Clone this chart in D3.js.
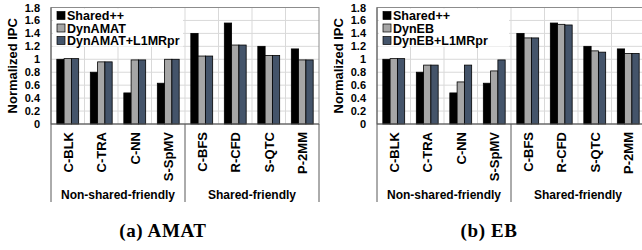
<!DOCTYPE html>
<html>
<head>
<meta charset="utf-8">
<script src="https://cdn.jsdelivr.net/npm/d3@7"></script>
<style>
  body { margin: 0; background: #fff; }
  text { font-family: Arial, "Liberation Sans", sans-serif; font-weight: bold; }
</style>
</head>
<body>
<div id="chart"></div>
<script>
// data
const categories = ["C-BLK", "C-TRA", "C-NN", "S-SpMV", "C-BFS", "R-CFD", "S-QTC", "P-2MM"];
const groups = [
    { name: "Non-shared-friendly", from: 0, to: 4 },
    { name: "Shared-friendly", from: 4, to: 8 }
];
const yTicks = [0, 0.2, 0.4, 0.6, 0.8, 1, 1.2, 1.4, 1.6, 1.8];

const seriesAmat = ["Shared++", "DynAMAT", "DynAMAT+L1MRpr"];
const sharedAmat = [1.00, 0.80, 0.48, 0.63, 1.40, 1.56, 1.20, 1.16];
const dynAmat    = [1.01, 0.96, 0.99, 1.00, 1.05, 1.22, 1.06, 0.99];
const dynAmatL1  = [1.01, 0.96, 0.99, 1.00, 1.05, 1.22, 1.06, 0.99];

const seriesEb = ["Shared++", "DynEB", "DynEB+L1MRpr"];
const sharedEb = [1.00, 0.80, 0.48, 0.63, 1.40, 1.56, 1.20, 1.16];
const dynEb    = [1.01, 0.91, 0.65, 0.82, 1.33, 1.54, 1.13, 1.09];
const dynEbL1  = [1.01, 0.91, 0.91, 0.99, 1.33, 1.53, 1.11, 1.09];

const colors = ["#000000", "#a6a6a6", "#44546a"];

const width = 642, height = 250;
const svg = d3.select("#chart").append("svg")
    .attr("width", width)
    .attr("height", height);

svg.append("rect").attr("width", width).attr("height", height).attr("fill", "#fff");

// Draws one panel. left = x of the plot's left edge.
function drawChart(left, seriesNames, values, caption) {
    const plotW = 268, top = 7.5, bottom = 124;
    const g = svg.append("g").attr("transform", "translate(" + left + ",0)");

    let x0 = d3.scaleBand().domain(categories).range([0, plotW]).padding(0);
    let x1 = d3.scaleBand().domain(seriesNames).range([0, x0.bandwidth()])
        .paddingInner(0).paddingOuter(0.8);
    let y = d3.scaleLinear().domain([0, 1.8]).range([bottom, top]);

    // horizontal gridlines
    g.selectAll(".hgrid").data(yTicks.slice(1))
        .enter().append("line")
        .attr("x1", 0).attr("x2", plotW)
        .attr("y1", d => y(d)).attr("y2", d => y(d))
        .attr("stroke", "#d9d9d9").attr("stroke-width", 1);

    // vertical gridlines between categories
    g.selectAll(".vgrid").data(categories.slice(1))
        .enter().append("line")
        .attr("x1", d => x0(d)).attr("x2", d => x0(d))
        .attr("y1", top).attr("y2", bottom)
        .attr("stroke", "#d9d9d9").attr("stroke-width", 1);

    // plot frame
    g.append("rect")
        .attr("x", 0).attr("y", top).attr("width", plotW).attr("height", bottom - top)
        .attr("fill", "none").attr("stroke", "#8c8c8c").attr("stroke-width", 1);

    // legend box (hides the grid behind it)
    const legend = g.append("g");
    legend.append("rect")
        .attr("x", 2).attr("y", top + 1).attr("width", 130).attr("height", 38)
        .attr("fill", "#fff");
    seriesNames.forEach(function(s, i) {
        let cy = 15.5 + i * 12.5;
        legend.append("rect")
            .attr("x", 6).attr("y", cy - 4).attr("width", 8).attr("height", 8)
            .attr("fill", colors[i]).attr("stroke", "#000").attr("stroke-width", 0.7);
        legend.append("text")
            .attr("x", 16).attr("y", cy + 4.5)
            .attr("font-size", "12.5px")
            .text(s);
    });

    // bars
    categories.forEach(function(c, ci) {
        seriesNames.forEach(function(s, si) {
            g.append("rect")
                .attr("x", x0(c) + x1(s))
                .attr("y", y(values[si][ci]))
                .attr("width", x1.bandwidth())
                .attr("height", y(0) - y(values[si][ci]))
                .attr("fill", colors[si])
                .attr("stroke", "#000")
                .attr("stroke-width", 0.8);
        });
    });

    // axis line
    g.append("line")
        .attr("x1", 0).attr("x2", plotW).attr("y1", bottom).attr("y2", bottom)
        .attr("stroke", "#595959").attr("stroke-width", 1);
    g.append("line")
        .attr("x1", 0).attr("x2", 0).attr("y1", top).attr("y2", bottom)
        .attr("stroke", "#595959").attr("stroke-width", 1);

    // y tick labels
    g.selectAll(".ytick").data(yTicks)
        .enter().append("text")
        .attr("x", -11).attr("y", d => y(d) + 4)
        .attr("text-anchor", "end")
        .attr("font-size", "11px")
        .text(d => d3.format("~g")(d));

    // y title
    g.append("text")
        .attr("transform", "translate(-34," + ((top + bottom) / 2) + ") rotate(-90)")
        .attr("text-anchor", "middle")
        .attr("font-size", "13px")
        .text("Normalized IPC");

    // category labels (rotated)
    categories.forEach(function(c) {
        let cx = x0(c) + x0.bandwidth() / 2;
        g.append("text")
            .attr("transform", "translate(" + (cx + 4.8) + ",132) rotate(-90)")
            .attr("text-anchor", "end")
            .attr("font-size", "13px")
            .text(c);
    });

    // group separators and labels
    let seps = [0, x0(categories[4]), plotW];
    seps.forEach(function(sx) {
        g.append("line")
            .attr("x1", sx).attr("x2", sx).attr("y1", bottom).attr("y2", 202)
            .attr("stroke", "#595959").attr("stroke-width", 1);
    });
    groups.forEach(function(gr) {
        let gx0 = x0(categories[gr.from]);
        let gx1 = x0(categories[gr.to - 1]) + x0.bandwidth();
        g.append("text")
            .attr("x", (gx0 + gx1) / 2).attr("y", 199)
            .attr("text-anchor", "middle")
            .attr("font-size", "12px")
            .text(gr.name);
    });

    // caption under the panel
    g.append("text")
        .attr("x", 112).attr("y", 237)
        .attr("text-anchor", "middle")
        .attr("font-size", "19px")
        .attr("letter-spacing", "0.6px")
        .style("font-family", "'Liberation Serif', 'DejaVu Serif', serif")
        .text(caption);
}

drawChart(51, seriesAmat, [sharedAmat, dynAmat, dynAmatL1], "(a) AMAT");
drawChart(377, seriesEb, [sharedEb, dynEb, dynEbL1], "(b) EB");
</script>
</body>
</html>
